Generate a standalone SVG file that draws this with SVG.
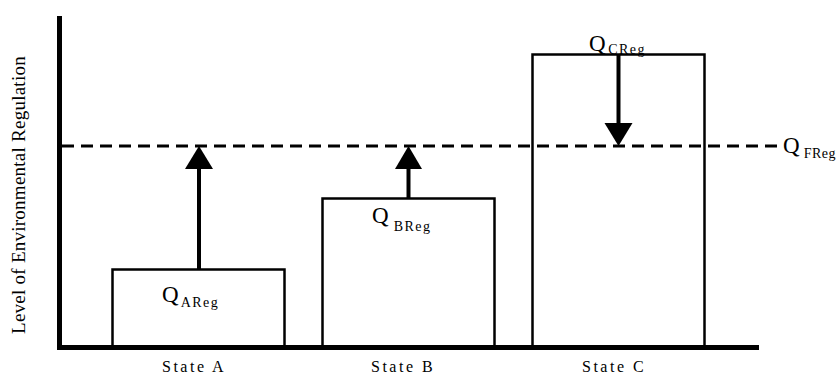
<svg xmlns="http://www.w3.org/2000/svg" width="836" height="377" viewBox="0 0 836 377">
  <style>
    .axis { stroke: #000; stroke-width: 5; fill: none; }
    .box { stroke: #000; stroke-width: 2.5; fill: #fff; }
    .level { stroke: #000; stroke-width: 3; stroke-dasharray: 12 7; fill: none; }
    .shaft { stroke: #000; stroke-width: 4; fill: none; }
    .head { fill: #000; stroke: none; }
    text { font-family: "Liberation Serif", "Times New Roman", serif; fill: #000; }
    .q { font-size: 23px; }
    .sub { font-size: 14px; letter-spacing: 1.5px; }
    .state { font-size: 16px; letter-spacing: 2.5px; }
    .ylabel { font-size: 19px; letter-spacing: 0.25px; }
  </style>

  <!-- bars for each state -->
  <g id="state-a">
    <rect class="box" x="112.5" y="269.5" width="172" height="78"/>
    <text class="q" x="162" y="302">Q<tspan class="sub" dx="2" dy="5">AReg</tspan></text>
    <text class="state" x="162" y="372">State A</text>
  </g>
  <g id="state-b">
    <rect class="box" x="322.5" y="198.5" width="172" height="149"/>
    <text class="q" x="372" y="223">Q<tspan class="sub" dx="5" dy="8">BReg</tspan></text>
    <text class="state" x="371" y="372">State B</text>
  </g>
  <g id="state-c">
    <rect class="box" x="532.5" y="54.5" width="172" height="293"/>
    <text class="q" x="589" y="51">Q<tspan class="sub" dx="2.5" dy="3">CReg</tspan></text>
    <text class="state" x="582" y="372">State C</text>
  </g>

  <!-- target regulation level -->
  <g id="target-level">
    <line class="level" x1="62" y1="146" x2="782" y2="146"/>
    <text class="q" x="783" y="153">Q<tspan class="sub" dx="4" dy="5" style="letter-spacing:0.5px">FReg</tspan></text>
  </g>

  <!-- axes -->
  <g id="axes">
    <line class="axis" x1="59.5" y1="16" x2="59.5" y2="350"/>
    <line class="axis" x1="57" y1="347.5" x2="759" y2="347.5"/>
    <text class="ylabel" transform="translate(25 195) rotate(-90)" text-anchor="middle">Level of Environmental Regulation</text>
  </g>

  <!-- adjustment arrows toward the target level -->
  <g id="connectors">
    <line class="shaft" x1="199" y1="269" x2="199" y2="166"/>
    <polygon class="head" points="199,146 185,169 213,169"/>
    <line class="shaft" x1="408.5" y1="198" x2="408.5" y2="166"/>
    <polygon class="head" points="408.5,146 395,169 422,169"/>
    <line class="shaft" x1="618.5" y1="54" x2="618.5" y2="126"/>
    <polygon class="head" points="618.5,146 604.5,123 632.5,123"/>
  </g>
</svg>
